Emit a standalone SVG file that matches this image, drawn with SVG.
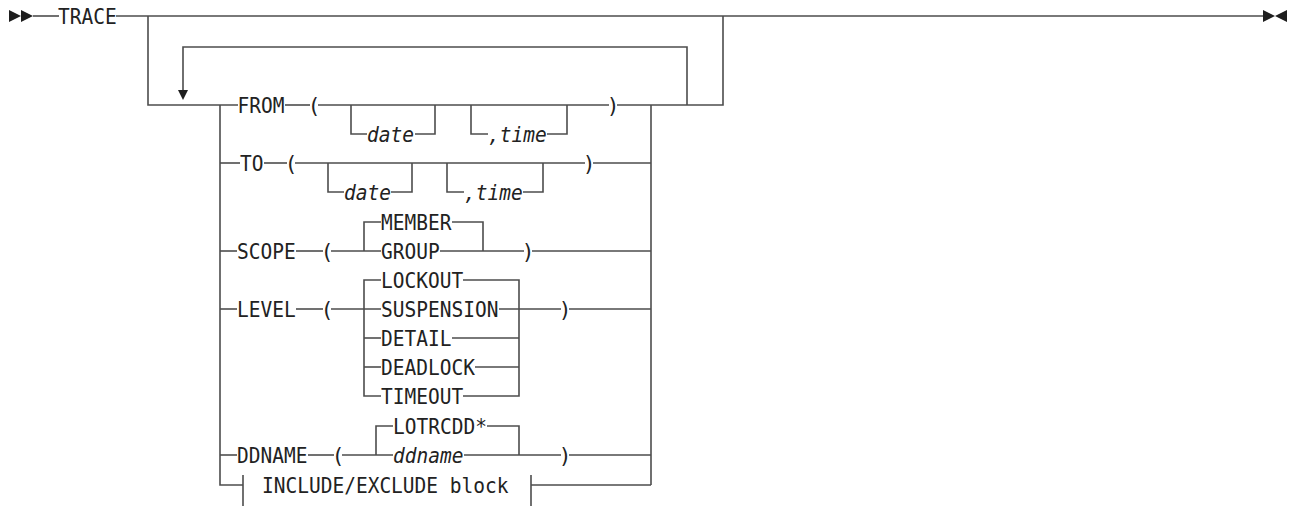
<svg xmlns="http://www.w3.org/2000/svg" width="1294" height="506" viewBox="0 0 1294 506">
<style>
  .ln { fill: none; stroke: #4d4d4d; stroke-width: 1.6; }
  .t { font-family: "DejaVu Sans Mono", "Liberation Mono", monospace; font-size: 21px; fill: #222; }
  .i { font-style: italic; }
  .m { text-anchor: middle; }
  .ar { fill: #1e1e1e; }
</style>
<rect width="1294" height="506" fill="#ffffff"/>

<g id="connectors">
  <!-- main line -->
  <path class="ln" d="M33,16 H59"/>
  <path class="ln" d="M116,16 H1263"/>
  <!-- branch down into repeat group -->
  <path class="ln" d="M148,16 V105 H238"/>
  <!-- choice left rail -->
  <path class="ln" d="M220,105 V485 H243"/>
  <!-- choice right rail -->
  <path class="ln" d="M651,105 V485"/>
  <path class="ln" d="M617,105 H723 V16"/>
  <!-- repeat loop -->
  <path class="ln" d="M687,105 V47 H183 V92"/>
  <polygon class="ar" points="178,90 188,90 183,100"/>

  <!-- FROM row -->
  <path class="ln" d="M285,105 H310"/>
  <path class="ln" d="M318,105 H609"/>
  <path class="ln" d="M351,105 V134 H367"/>
  <path class="ln" d="M415,134 H435 V105"/>
  <path class="ln" d="M471,105 V134 H488"/>
  <path class="ln" d="M547,134 H567 V105"/>

  <!-- TO row -->
  <path class="ln" d="M220,163 H240"/>
  <path class="ln" d="M264,163 H287"/>
  <path class="ln" d="M295,163 H585"/>
  <path class="ln" d="M593,163 H651"/>
  <path class="ln" d="M328,163 V192 H344"/>
  <path class="ln" d="M391,192 H412 V163"/>
  <path class="ln" d="M447,163 V192 H464"/>
  <path class="ln" d="M523,192 H543 V163"/>

  <!-- SCOPE row -->
  <path class="ln" d="M220,251 H237"/>
  <path class="ln" d="M296,251 H323"/>
  <path class="ln" d="M331,251 H381"/>
  <path class="ln" d="M440,251 H524"/>
  <path class="ln" d="M532,251 H651"/>
  <path class="ln" d="M364,251 V222 H381"/>
  <path class="ln" d="M452,222 H483 V251"/>

  <!-- LEVEL row -->
  <path class="ln" d="M220,309 H237"/>
  <path class="ln" d="M296,309 H323"/>
  <path class="ln" d="M331,309 H381"/>
  <path class="ln" d="M499,309 H561"/>
  <path class="ln" d="M569,309 H651"/>
  <path class="ln" d="M381,280 H364 V396 H381"/>
  <path class="ln" d="M364,338 H381"/>
  <path class="ln" d="M364,367 H381"/>
  <path class="ln" d="M463,280 H519 V396 H463"/>
  <path class="ln" d="M452,338 H519"/>
  <path class="ln" d="M475,367 H519"/>

  <!-- DDNAME row -->
  <path class="ln" d="M220,455 H237"/>
  <path class="ln" d="M308,455 H334"/>
  <path class="ln" d="M342,455 H393"/>
  <path class="ln" d="M464,455 H561"/>
  <path class="ln" d="M569,455 H651"/>
  <path class="ln" d="M376,455 V426 H393"/>
  <path class="ln" d="M487,426 H519 V455"/>

  <!-- INCLUDE/EXCLUDE row -->
  <path class="ln" d="M243,475 V506"/>
  <path class="ln" d="M531,475 V506"/>
  <path class="ln" d="M531,485 H651"/>
</g>

<g id="start">
  <polygon class="ar" points="9,10 21,16 9,22"/>
  <polygon class="ar" points="21,10 33,16 21,22"/>
</g>
<g id="trace"><text class="t" x="58" y="24" textLength="58.7" lengthAdjust="spacingAndGlyphs">TRACE</text></g>

<g id="from">
  <text class="t" x="237.5" y="113" textLength="47" lengthAdjust="spacingAndGlyphs">FROM</text>
  <text class="t m" x="314" y="113">(</text>
  <text class="t i" x="367" y="142" textLength="47" lengthAdjust="spacingAndGlyphs">date</text>
  <text class="t i" x="488" y="142" textLength="58.7" lengthAdjust="spacingAndGlyphs">,time</text>
  <text class="t m" x="613" y="113">)</text>
</g>

<g id="to">
  <text class="t" x="240" y="171" textLength="23.5" lengthAdjust="spacingAndGlyphs">TO</text>
  <text class="t m" x="291" y="171">(</text>
  <text class="t i" x="344" y="200" textLength="47" lengthAdjust="spacingAndGlyphs">date</text>
  <text class="t i" x="464" y="200" textLength="58.7" lengthAdjust="spacingAndGlyphs">,time</text>
  <text class="t m" x="589" y="171">)</text>
</g>

<g id="scope">
  <text class="t" x="237" y="259" textLength="58.7" lengthAdjust="spacingAndGlyphs">SCOPE</text>
  <text class="t m" x="327" y="259">(</text>
  <text class="t" x="381" y="230" textLength="70.4" lengthAdjust="spacingAndGlyphs">MEMBER</text>
  <text class="t" x="381" y="259" textLength="58.7" lengthAdjust="spacingAndGlyphs">GROUP</text>
  <text class="t m" x="528" y="259">)</text>
</g>

<g id="level">
  <text class="t" x="237" y="317" textLength="58.7" lengthAdjust="spacingAndGlyphs">LEVEL</text>
  <text class="t m" x="327" y="317">(</text>
  <text class="t" x="381" y="288" textLength="82.2" lengthAdjust="spacingAndGlyphs">LOCKOUT</text>
  <text class="t" x="381" y="317" textLength="117.4" lengthAdjust="spacingAndGlyphs">SUSPENSION</text>
  <text class="t" x="381" y="346" textLength="70.4" lengthAdjust="spacingAndGlyphs">DETAIL</text>
  <text class="t" x="381" y="375" textLength="93.9" lengthAdjust="spacingAndGlyphs">DEADLOCK</text>
  <text class="t" x="381" y="404" textLength="82.2" lengthAdjust="spacingAndGlyphs">TIMEOUT</text>
  <text class="t m" x="565" y="317">)</text>
</g>

<g id="ddname">
  <text class="t" x="237" y="463" textLength="70.4" lengthAdjust="spacingAndGlyphs">DDNAME</text>
  <text class="t m" x="338" y="463">(</text>
  <text class="t" x="393" y="434" textLength="93.9" lengthAdjust="spacingAndGlyphs">LOTRCDD*</text>
  <text class="t i" x="393" y="463" textLength="70.4" lengthAdjust="spacingAndGlyphs">ddname</text>
  <text class="t m" x="565" y="463">)</text>
</g>

<g id="include-exclude">
  <text class="t" x="262" y="493" textLength="246.5" lengthAdjust="spacingAndGlyphs">INCLUDE/EXCLUDE block</text>
</g>

<g id="end">
  <polygon class="ar" points="1263,10 1275,16 1263,22"/>
  <polygon class="ar" points="1287,10 1275,16 1287,22"/>
</g>
</svg>
